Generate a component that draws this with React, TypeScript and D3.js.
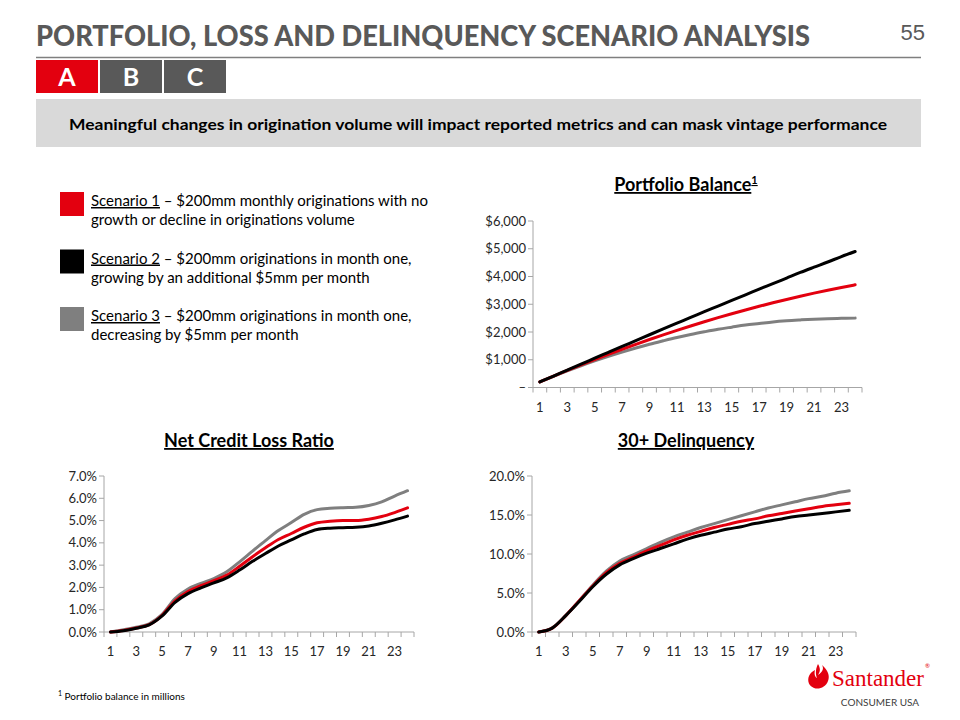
import React from 'react';
import * as d3 from 'd3';

const W = 960;
const H = 720;
const FONT = 'Lato, "Open Sans", sans-serif';

const RED = '#e3000f';
const BLACK = '#000000';
const GRAY = '#7f7f7f';

// months on the x axis, every other one labelled
const months = d3.range(1, 25);
const monthLabels = months.filter(m => m % 2 === 1);

// Portfolio balance ($mm)
const balS1 = [200, 409, 614, 813, 1006, 1195, 1378, 1556, 1730, 1897, 2060, 2217, 2370, 2517, 2658, 2795, 2926, 3053, 3174, 3290, 3400, 3506, 3606, 3700];
const balS2 = [200, 414, 629, 843, 1055, 1268, 1480, 1690, 1901, 2111, 2318, 2524, 2733, 2936, 3141, 3341, 3546, 3743, 3944, 4145, 4335, 4522, 4719, 4900];
const balS3 = [200, 404, 599, 783, 957, 1122, 1276, 1422, 1559, 1683, 1802, 1910, 2007, 2098, 2175, 2249, 2306, 2363, 2404, 2435, 2462, 2480, 2492, 2500];
const balTicks = [0, 1000, 2000, 3000, 4000, 5000, 6000];

// Net credit loss ratio (%)
const nclS1 = [0, 0.07, 0.18, 0.33, 0.75, 1.4, 1.82, 2.08, 2.3, 2.55, 2.95, 3.38, 3.78, 4.15, 4.42, 4.7, 4.9, 4.97, 5.0, 5.0, 5.06, 5.18, 5.36, 5.57];
const nclS2 = [0, 0.06, 0.17, 0.32, 0.72, 1.33, 1.72, 1.98, 2.2, 2.43, 2.78, 3.17, 3.52, 3.86, 4.13, 4.4, 4.6, 4.66, 4.68, 4.7, 4.76, 4.88, 5.03, 5.2];
const nclS3 = [0, 0.1, 0.22, 0.37, 0.79, 1.5, 1.93, 2.18, 2.4, 2.7, 3.15, 3.63, 4.1, 4.55, 4.91, 5.28, 5.49, 5.55, 5.58, 5.6, 5.68, 5.84, 6.1, 6.34];
const nclTicks = [0, 1, 2, 3, 4, 5, 6, 7];

// 30+ delinquency (%)
const dqS1 = [0, 0.5, 2.1, 4.0, 5.9, 7.6, 8.8, 9.6, 10.4, 11.1, 11.8, 12.4, 12.9, 13.4, 13.8, 14.2, 14.5, 14.9, 15.2, 15.5, 15.8, 16.1, 16.3, 16.5];
const dqS2 = [0, 0.5, 2.1, 3.9, 5.8, 7.4, 8.6, 9.4, 10.1, 10.7, 11.3, 11.9, 12.4, 12.8, 13.2, 13.5, 13.9, 14.2, 14.5, 14.8, 15.0, 15.2, 15.4, 15.6];
const dqS3 = [0, 0.55, 2.1, 4.0, 6.0, 7.8, 9.1, 9.9, 10.7, 11.5, 12.2, 12.8, 13.4, 13.9, 14.4, 14.9, 15.4, 15.9, 16.3, 16.7, 17.1, 17.4, 17.8, 18.1];
const dqTicks = [0, 5, 10, 15, 20];

const scenarioLegend = [
  { name: 'Scenario 1', color: RED, l1: ' – $200mm monthly originations with no', l2: 'growth or decline in originations volume' },
  { name: 'Scenario 2', color: BLACK, l1: ' – $200mm originations in month one,', l2: 'growing by an additional $5mm per month' },
  { name: 'Scenario 3', color: GRAY, l1: ' – $200mm originations in month one,', l2: 'decreasing by $5mm per month' },
];

type ChartProps = {
  left: number;
  right: number;
  top: number;
  bottom: number;
  yMax: number;
  ticks: number[];
  fmt: (v: number) => string;
  series: { values: number[]; color: string }[];
};

const LineChart: React.FC<ChartProps> = ({ left, right, top, bottom, yMax, ticks, fmt, series }) => {
  const x = d3.scaleBand<number>().domain(months).range([left, right]).padding(0);
  const y = d3.scaleLinear().domain([0, yMax]).range([bottom, top]);
  const line = d3.line<number>()
    .x((d, i) => x(months[i])! + x.bandwidth() / 2)
    .y(d => y(d))
    .curve(d3.curveMonotoneX);
  const axisColor = '#a6a6a6';
  const edges = months.map(m => x(m)!).concat([right]);

  return (
    <g>
      {/* y axis */}
      <line x1={left} x2={left} y1={top} y2={bottom} stroke={axisColor} strokeWidth={1} />
      {ticks.map(t => (
        <g key={t}>
          <line x1={left - 5} x2={left} y1={y(t)} y2={y(t)} stroke={axisColor} />
          <text x={left - 7} y={y(t) + 4.5} textAnchor="end" fontSize={13} fill="#262626" fontFamily={FONT}>
            {fmt(t)}
          </text>
        </g>
      ))}
      {/* x axis */}
      <line x1={left} x2={right} y1={bottom} y2={bottom} stroke={axisColor} strokeWidth={1} />
      {edges.map((e, i) => (
        <line key={i} x1={e} x2={e} y1={bottom} y2={bottom + 5} stroke={axisColor} />
      ))}
      {monthLabels.map(m => (
        <text key={m} x={x(m)! + x.bandwidth() / 2} y={bottom + 24} textAnchor="middle" fontSize={13} fill="#262626" fontFamily={FONT}>
          {m}
        </text>
      ))}
      {series.map((s, i) => (
        <path key={i} d={line(s.values) || ''} fill="none" stroke={s.color} strokeWidth={3} strokeLinejoin="round" strokeLinecap="round" />
      ))}
    </g>
  );
};

const fmtDollar = (v: number) => (v === 0 ? '–' : d3.format('$,')(v));
const fmtPct = (v: number) => v.toFixed(1) + '%';

export default function App() {
  return (
    <svg width={W} height={H} viewBox={`0 0 ${W} ${H}`} style={{ position: 'absolute', left: 0, top: 0, display: 'block', background: '#fff' }}>
      {/* header */}
      <text x={36} y={46} fontSize={28} fontWeight={900} fill="#595959" fontFamily={FONT} textLength={774} lengthAdjust="spacingAndGlyphs">
        PORTFOLIO, LOSS AND DELINQUENCY SCENARIO ANALYSIS
      </text>
      <text x={925} y={40} fontSize={22} fill="#595959" textAnchor="end" fontFamily='"Liberation Sans", Arial, sans-serif'>55</text>
      <line x1={36} x2={921} y1={57.5} y2={57.5} stroke="#7f7f7f" strokeWidth={1.5} />

      {/* section tabs */}
      {['A', 'B', 'C'].map((t, i) => (
        <g key={t}>
          <rect x={36 + i * 64} y={60} width={62} height={33} fill={i === 0 ? '#e3000f' : '#595959'} />
          <text x={36 + i * 64 + 31} y={86} textAnchor="middle" fontSize={25} fontWeight={700} fill="#fff" fontFamily={FONT}>{t}</text>
        </g>
      ))}

      {/* banner */}
      <rect x={36} y={99} width={885} height={48} fill="#d9d9d9" />
      <text x={478} y={130} textAnchor="middle" fontSize={16} fontWeight={700} fill="#000" fontFamily={FONT} textLength={818} lengthAdjust="spacingAndGlyphs">
        Meaningful changes in origination volume will impact reported metrics and can mask vintage performance
      </text>

      {/* legend */}
      {scenarioLegend.map((s, i) => (
        <g key={s.name} transform={`translate(0, ${i * 57.5})`}>
          <rect x={60} y={192} width={24} height={24} fill={s.color} />
          <text x={91} y={206} fontSize={15} fill="#000" fontFamily={FONT}>
            <tspan textDecoration="underline">{s.name}</tspan>
            <tspan>{s.l1}</tspan>
          </text>
          <text x={91} y={225} fontSize={15} fill="#000" fontFamily={FONT}>{s.l2}</text>
        </g>
      ))}

      {/* chart titles */}
      <text x={686} y={191} textAnchor="middle" fontSize={18} fontWeight={700} fill="#000" fontFamily={FONT} textDecoration="underline">
        Portfolio Balance<tspan fontSize={11} dy={-7}>1</tspan>
      </text>
      <text x={249} y={447} textAnchor="middle" fontSize={18} fontWeight={700} fill="#000" fontFamily={FONT} textDecoration="underline">
        Net Credit Loss Ratio
      </text>
      <text x={686} y={447} textAnchor="middle" fontSize={18} fontWeight={700} fill="#000" fontFamily={FONT} textDecoration="underline">
        30+ Delinquency
      </text>

      <LineChart
        left={533} right={862} top={221} bottom={387.5} yMax={6000} ticks={balTicks} fmt={fmtDollar}
        series={[{ values: balS3, color: GRAY }, { values: balS1, color: RED }, { values: balS2, color: BLACK }]}
      />
      <LineChart
        left={104} right={414} top={476} bottom={632} yMax={7} ticks={nclTicks} fmt={fmtPct}
        series={[{ values: nclS3, color: GRAY }, { values: nclS1, color: RED }, { values: nclS2, color: BLACK }]}
      />
      <LineChart
        left={532} right={856} top={476} bottom={632} yMax={20} ticks={dqTicks} fmt={fmtPct}
        series={[{ values: dqS3, color: GRAY }, { values: dqS1, color: RED }, { values: dqS2, color: BLACK }]}
      />

      {/* footnote */}
      <text x={58} y={700} fontSize={10} fill="#000" fontFamily={FONT}>
        <tspan fontSize={7} dy={-4}>1</tspan>
        <tspan dy={4}> Portfolio balance in millions</tspan>
      </text>

      {/* logo */}
      <g transform="translate(806, 662)">
        <path d="M12,2 C15,7 14,10 12,13 C17,10 18,6 16,3 C22,8 24,14 22,19 C20,25 13,28 8,26 C3,24 1,19 3,14 C4,11 7,9 9,8 C8,12 9,15 11,16 C9,11 10,6 12,2 Z" fill="#e3000f" />
      </g>
      <text x={832} y={686} fontSize={23} fill="#e3000f" fontFamily='"Liberation Serif", "DejaVu Serif", serif'>Santander</text>
      <text x={925} y={668} fontSize={6} fill="#e3000f" fontFamily={FONT}>®</text>
      <text x={880} y={706} textAnchor="middle" fontSize={10} fill="#404040" fontFamily={FONT}>CONSUMER USA</text>
    </svg>
  );
}
